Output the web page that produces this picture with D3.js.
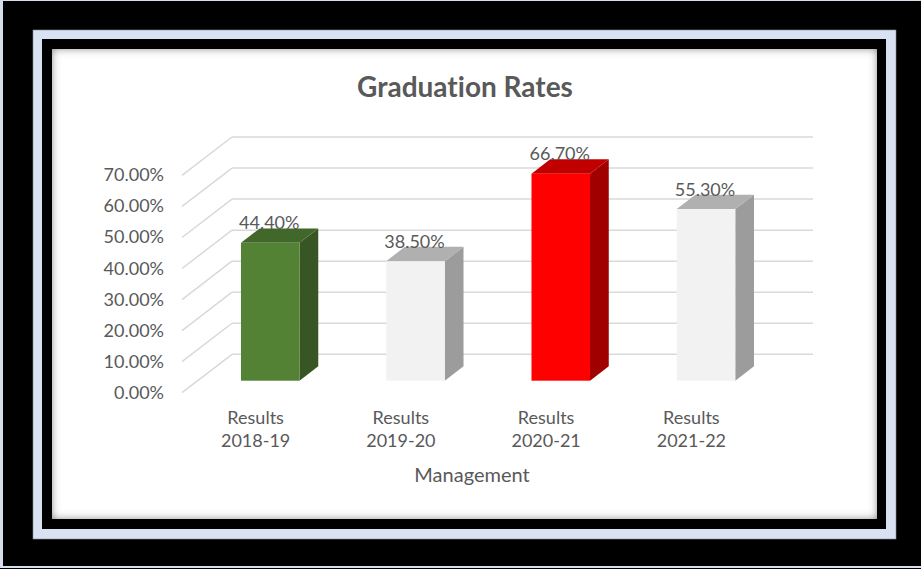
<!DOCTYPE html>
<html>
<head>
<meta charset="utf-8">
<script src="https://cdn.jsdelivr.net/npm/d3@7"></script>
<style>
  body { margin: 0; background: #000; }
  svg { display: block; }
  text { font-family: Lato, "Open Sans", sans-serif; fill: #595959; font-variant-ligatures: none; }
</style>
</head>
<body>
<script>
// data
var categories = ["Results|2018-19", "Results|2019-20", "Results|2020-21", "Results|2021-22"];
var values = [0.444, 0.385, 0.667, 0.553];
var valueLabels = ["44.40%", "38.50%", "66.70%", "55.30%"];
var yTicks = [0, 0.1, 0.2, 0.3, 0.4, 0.5, 0.6, 0.7];
var frontColors = ["#548235", "#F2F2F2", "#FF0000", "#F2F2F2"];
var topColors = ["#41672A", "#B0B0B0", "#C00000", "#B0B0B0"];
var sideColors = ["#375623", "#9C9C9C", "#A00000", "#9C9C9C"];

var w = 921, h = 569;

var svg = d3.select("body").append("svg")
    .attr("width", w)
    .attr("height", h);

// inner shadow for the white panel
var defs = svg.append("defs");
var f = defs.append("filter").attr("id", "inset")
    .attr("x", "-5%").attr("y", "-5%").attr("width", "110%").attr("height", "110%");
f.append("feFlood").attr("flood-color", "#000").attr("flood-opacity", 0.85).attr("result", "flood");
f.append("feComposite").attr("in", "flood").attr("in2", "SourceAlpha").attr("operator", "out").attr("result", "outside");
f.append("feGaussianBlur").attr("in", "outside").attr("stdDeviation", 4.5).attr("result", "blur");
f.append("feComposite").attr("in", "blur").attr("in2", "SourceAlpha").attr("operator", "in").attr("result", "shadow");
var m = f.append("feMerge");
m.append("feMergeNode").attr("in", "SourceGraphic");
m.append("feMergeNode").attr("in", "shadow");

// frame
svg.append("rect").attr("x", 0).attr("y", 0).attr("width", w).attr("height", 568).attr("fill", "#D6DEEE");
svg.append("rect").attr("x", 3).attr("y", 1).attr("width", w - 3).attr("height", 565).attr("fill", "#000");
svg.append("rect").attr("x", 33).attr("y", 30).attr("width", 863).attr("height", 509)
    .attr("fill", "#D9E2F3").attr("stroke", "#8a8f99").attr("stroke-width", 0.6);
svg.append("rect").attr("x", 42).attr("y", 39).attr("width", 844).attr("height", 490).attr("fill", "#000");
svg.append("rect").attr("x", 52).attr("y", 49).attr("width", 825).attr("height", 470)
    .attr("fill", "#fff").attr("filter", "url(#inset)");

// 3d projection: depth 0 = front of floor, depth 1 = back wall
var depthX = 50, depthY = 38.4;
var x = d3.scaleBand().domain(categories).range([182, 763]);
var y = d3.scaleLinear().domain([0, 0.7]).range([392.7, 175.4]);
function px(xv, d) { return xv + depthX * d; }
function py(v, d) { return y(v) - depthY * d; }

var d0 = 0.3125, d1 = 0.6875;
var barW = x.bandwidth() * 0.403;

// title
svg.append("text")
    .attr("x", 465).attr("y", 97)
    .attr("text-anchor", "middle")
    .style("font-size", "28px")
    .style("font-weight", "bold")
    .text("Graduation Rates");

// gridlines on back wall
var grid = svg.append("g").attr("stroke", "#D9D9D9").attr("stroke-width", 1.5).attr("fill", "none");
grid.selectAll(".back").data(yTicks).enter().append("line")
    .attr("x1", px(x.range()[0], 1)).attr("x2", px(x.range()[1], 1))
    .attr("y1", function(d) { return py(d, 1); })
    .attr("y2", function(d) { return py(d, 1); });
// gridlines on side wall
grid.selectAll(".side").data(yTicks).enter().append("line")
    .attr("x1", px(x.range()[0], 0)).attr("x2", px(x.range()[0], 1))
    .attr("y1", function(d) { return py(d, 0); })
    .attr("y2", function(d) { return py(d, 1); });

// y axis labels
svg.selectAll(".ylab").data(yTicks).enter().append("text")
    .attr("x", 164)
    .attr("y", function(d) { return py(d, 0) + 6; })
    .attr("text-anchor", "end")
    .style("font-size", "18px")
    .text(function(d) { return (d * 100).toFixed(2) + "%"; });

// bars
var bars = svg.selectAll(".bar").data(values).enter().append("g");
function left(i) { return x(categories[i]) + x.bandwidth() / 2 - barW / 2; }

bars.append("path") // side
    .attr("fill", function(d, i) { return sideColors[i]; })
    .attr("d", function(d, i) {
        var xr = left(i) + barW;
        return "M" + px(xr, d0) + "," + py(0, d0) +
            "L" + px(xr, d1) + "," + py(0, d1) +
            "L" + px(xr, d1) + "," + py(d, d1) +
            "L" + px(xr, d0) + "," + py(d, d0) + "Z";
    });
bars.append("path") // top
    .attr("fill", function(d, i) { return topColors[i]; })
    .attr("d", function(d, i) {
        var xl = left(i), xr = xl + barW;
        return "M" + px(xl, d0) + "," + py(d, d0) +
            "L" + px(xr, d0) + "," + py(d, d0) +
            "L" + px(xr, d1) + "," + py(d, d1) +
            "L" + px(xl, d1) + "," + py(d, d1) + "Z";
    });
bars.append("rect") // front
    .attr("fill", function(d, i) { return frontColors[i]; })
    .attr("x", function(d, i) { return px(left(i), d0); })
    .attr("y", function(d) { return py(d, d0); })
    .attr("width", barW)
    .attr("height", function(d) { return py(0, d0) - py(d, d0); });

// value labels
bars.append("text")
    .attr("x", function(d, i) { return px(left(i) + barW / 2, d0) - 1; })
    .attr("y", function(d) { return py(d, d1) + 1; })
    .attr("text-anchor", "middle")
    .style("font-size", "18px")
    .text(function(d, i) { return valueLabels[i]; });

// category labels
var cl = svg.selectAll(".cat").data(categories).enter().append("text")
    .attr("text-anchor", "middle")
    .style("font-size", "18px");
cl.append("tspan")
    .attr("x", function(d) { return x(d) + x.bandwidth() / 2 + 1; })
    .attr("y", 424)
    .text(function(d) { return d.split("|")[0]; });
cl.append("tspan")
    .attr("x", function(d) { return x(d) + x.bandwidth() / 2 + 1; })
    .attr("y", 447)
    .text(function(d) { return d.split("|")[1]; });

// axis title
svg.append("text")
    .attr("x", 472).attr("y", 482)
    .attr("text-anchor", "middle")
    .style("font-size", "20px")
    .text("Management");
</script>
</body>
</html>
